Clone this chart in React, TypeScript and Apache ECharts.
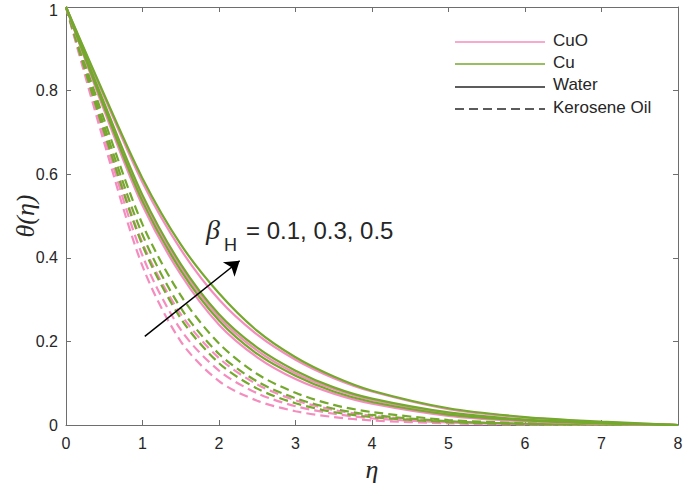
import React, { useEffect, useRef } from 'react';
import * as echarts from 'echarts';

// η grid
const eta = [0, 0.5, 1, 1.5, 2, 2.5, 3, 3.5, 4, 5, 6, 7, 8];

// Water based (solid)
const cuWaterB01 = [1, 0.76, 0.535, 0.37, 0.25, 0.17, 0.118, 0.08, 0.055, 0.025, 0.011, 0.004, 0];
const cuWaterB03 = [1, 0.77, 0.55, 0.385, 0.265, 0.185, 0.13, 0.09, 0.063, 0.03, 0.013, 0.005, 0];
const cuWaterB05 = [1, 0.79, 0.59, 0.432, 0.315, 0.225, 0.162, 0.116, 0.082, 0.04, 0.019, 0.008, 0];
const cuoWaterB01 = [1, 0.752, 0.525, 0.36, 0.24, 0.162, 0.11, 0.075, 0.051, 0.022, 0.009, 0.003, 0];
const cuoWaterB03 = [1, 0.765, 0.542, 0.378, 0.258, 0.178, 0.124, 0.086, 0.06, 0.028, 0.012, 0.004, 0];
const cuoWaterB05 = [1, 0.785, 0.58, 0.42, 0.3, 0.216, 0.156, 0.112, 0.08, 0.038, 0.018, 0.007, 0];

// Kerosene oil based (dashed)
const cuKeroB01 = [1, 0.7, 0.43, 0.255, 0.148, 0.087, 0.052, 0.031, 0.019, 0.007, 0.002, 0.001, 0];
const cuKeroB03 = [1, 0.715, 0.455, 0.28, 0.17, 0.104, 0.064, 0.039, 0.024, 0.009, 0.003, 0.001, 0];
const cuKeroB05 = [1, 0.73, 0.48, 0.31, 0.195, 0.122, 0.077, 0.048, 0.031, 0.012, 0.005, 0.002, 0];
const cuoKeroB01 = [1, 0.675, 0.38, 0.2, 0.105, 0.058, 0.033, 0.019, 0.011, 0.004, 0.001, 0, 0];
const cuoKeroB03 = [1, 0.69, 0.405, 0.228, 0.13, 0.076, 0.045, 0.027, 0.016, 0.006, 0.002, 0.001, 0];
const cuoKeroB05 = [1, 0.705, 0.435, 0.265, 0.16, 0.097, 0.059, 0.036, 0.022, 0.008, 0.003, 0.001, 0];

const legendNames = ['CuO', 'Cu', 'Water', 'Kerosene Oil'];
const annotationValues = '= 0.1, 0.3, 0.5';
const yAxisTitle = 'θ(η)';
const xAxisTitle = 'η';
const arrowStart = [1.03, 0.212];
const arrowEnd = [2.27, 0.393];

const PINK = '#F48DBE';
const GREEN = '#74A92E';
const DASH = [9, 5];

export default function App() {
  const ref = useRef<HTMLDivElement>(null);

  useEffect(() => {
    document.body.style.margin = '0';
    const chart = echarts.init(ref.current!, undefined, { renderer: 'svg' });

    const mk = (vals: number[], color: string, dashed: boolean, name: string) => ({
      type: 'line',
      name,
      data: eta.map((e, i) => [e, vals[i]]),
      smooth: 0.3,
      showSymbol: false,
      symbol: 'none',
      silent: true,
      lineStyle: { color, width: 2.2, type: dashed ? DASH : 'solid' },
    });

    const series: any[] = [
      mk(cuoKeroB01, PINK, true, 'cuoK1'),
      mk(cuoKeroB03, PINK, true, 'cuoK3'),
      mk(cuoKeroB05, PINK, true, 'cuoK5'),
      mk(cuKeroB01, GREEN, true, 'cuK1'),
      mk(cuKeroB03, GREEN, true, 'cuK3'),
      mk(cuKeroB05, GREEN, true, 'cuK5'),
      mk(cuoWaterB01, PINK, false, 'cuoW1'),
      mk(cuoWaterB03, PINK, false, 'cuoW3'),
      mk(cuoWaterB05, PINK, false, 'cuoW5'),
      mk(cuWaterB01, GREEN, false, 'cuW1'),
      mk(cuWaterB03, GREEN, false, 'cuW3'),
      mk(cuWaterB05, GREEN, false, 'cuW5'),
    ];
    series.push({
      type: 'line',
      name: 'arrow',
      data: [],
      silent: true,
      markLine: {
        silent: true,
        animation: false,
        symbol: ['none', 'arrow'],
        symbolSize: 14,
        label: { show: false },
        lineStyle: { color: '#000', width: 1.5, type: 'solid' },
        data: [[{ coord: arrowStart }, { coord: arrowEnd }]],
      },
    });

    const axisColor = '#6e6e6e';
    const labelColor = '#262626';
    const fontFam = 'Liberation Sans, Arial, sans-serif';
    const serifItalic = 'italic 26px Liberation Serif, Times New Roman, serif';

    const legendRows = [
      { y: 42, color: PINK, dash: null, ty: 40 },
      { y: 64, color: GREEN, dash: null, ty: 62 },
      { y: 87, color: '#262626', dash: null, ty: 84 },
      { y: 109, color: '#262626', dash: DASH, ty: 107 },
    ];
    const graphic: any[] = [];
    legendRows.forEach((r, i) => {
      graphic.push({
        type: 'line',
        shape: { x1: 455, y1: r.y, x2: 545, y2: r.y },
        style: { stroke: r.color, lineWidth: 1.5, lineDash: r.dash || undefined },
        silent: true,
      });
      graphic.push({
        type: 'text',
        x: 553,
        y: r.ty,
        style: {
          text: legendNames[i],
          fill: labelColor,
          font: `17px ${fontFam}`,
          verticalAlign: 'middle',
          align: 'left',
        },
        silent: true,
      });
    });
    graphic.push({
      type: 'text',
      x: 206,
      y: 229,
      style: {
        text: 'β',
        fill: '#262626',
        font: 'italic 28px Liberation Serif, Times New Roman, serif',
        verticalAlign: 'middle',
      },
    });
    graphic.push({
      type: 'text',
      x: 224,
      y: 245,
      style: { text: 'H', fill: '#262626', font: `18px ${fontFam}`, verticalAlign: 'middle' },
    });
    graphic.push({
      type: 'text',
      x: 246,
      y: 230,
      style: { text: annotationValues, fill: '#262626', font: `24px ${fontFam}`, verticalAlign: 'middle' },
    });
    graphic.push({
      type: 'text',
      x: 25,
      y: 216,
      rotation: Math.PI / 2,
      style: {
        text: yAxisTitle,
        fill: labelColor,
        font: serifItalic,
        align: 'center',
        verticalAlign: 'middle',
      },
    });
    graphic.push({
      type: 'text',
      x: 372,
      y: 469,
      style: {
        text: xAxisTitle,
        fill: labelColor,
        font: serifItalic,
        align: 'center',
        verticalAlign: 'middle',
      },
    });

    const fmt = (v: number) => String(Number(v.toFixed(1)));
    const yFmt = (v: number) => (v >= 1 ? '{t|1}' : fmt(v));

    chart.setOption({
      animation: false,
      backgroundColor: '#fff',
      grid: { left: 66, right: 7, top: 7, bottom: 61, containLabel: false, outerBoundsMode: 'none' },
      xAxis: [
        {
          type: 'value',
          min: 0,
          max: 8,
          interval: 1,
          axisLine: { show: true, lineStyle: { color: axisColor, width: 1 } },
          axisTick: { show: true, inside: true, length: 5, lineStyle: { color: axisColor } },
          axisLabel: { color: labelColor, fontSize: 16, fontFamily: fontFam, margin: 10, formatter: fmt },
          splitLine: { show: false },
        },
        {
          type: 'value',
          position: 'top',
          min: 0,
          max: 8,
          interval: 1,
          axisLine: { show: true, onZero: false, lineStyle: { color: axisColor, width: 1 } },
          axisTick: { show: true, inside: true, length: 5, lineStyle: { color: axisColor } },
          axisLabel: { show: false },
          splitLine: { show: false },
        },
      ],
      yAxis: [
        {
          type: 'value',
          min: 0,
          max: 1,
          interval: 0.2,
          axisLine: { show: true, lineStyle: { color: axisColor, width: 1 } },
          axisTick: { show: true, inside: true, length: 5, lineStyle: { color: axisColor } },
          axisLabel: {
            color: labelColor,
            fontSize: 16,
            fontFamily: fontFam,
            margin: 8,
            formatter: yFmt,
            rich: { t: { fontSize: 16, fontFamily: fontFam, color: labelColor, padding: [6, 0, 0, 0] } },
          },
          splitLine: { show: false },
        },
        {
          type: 'value',
          position: 'right',
          min: 0,
          max: 1,
          interval: 0.2,
          axisLine: { show: true, onZero: false, lineStyle: { color: axisColor, width: 1 } },
          axisTick: { show: true, inside: true, length: 5, lineStyle: { color: axisColor } },
          axisLabel: { show: false },
          splitLine: { show: false },
        },
      ],
      series,
      graphic,
    });

    return () => chart.dispose();
  }, []);

  return <div ref={ref} style={{ width: 685, height: 486 }} />;
}
